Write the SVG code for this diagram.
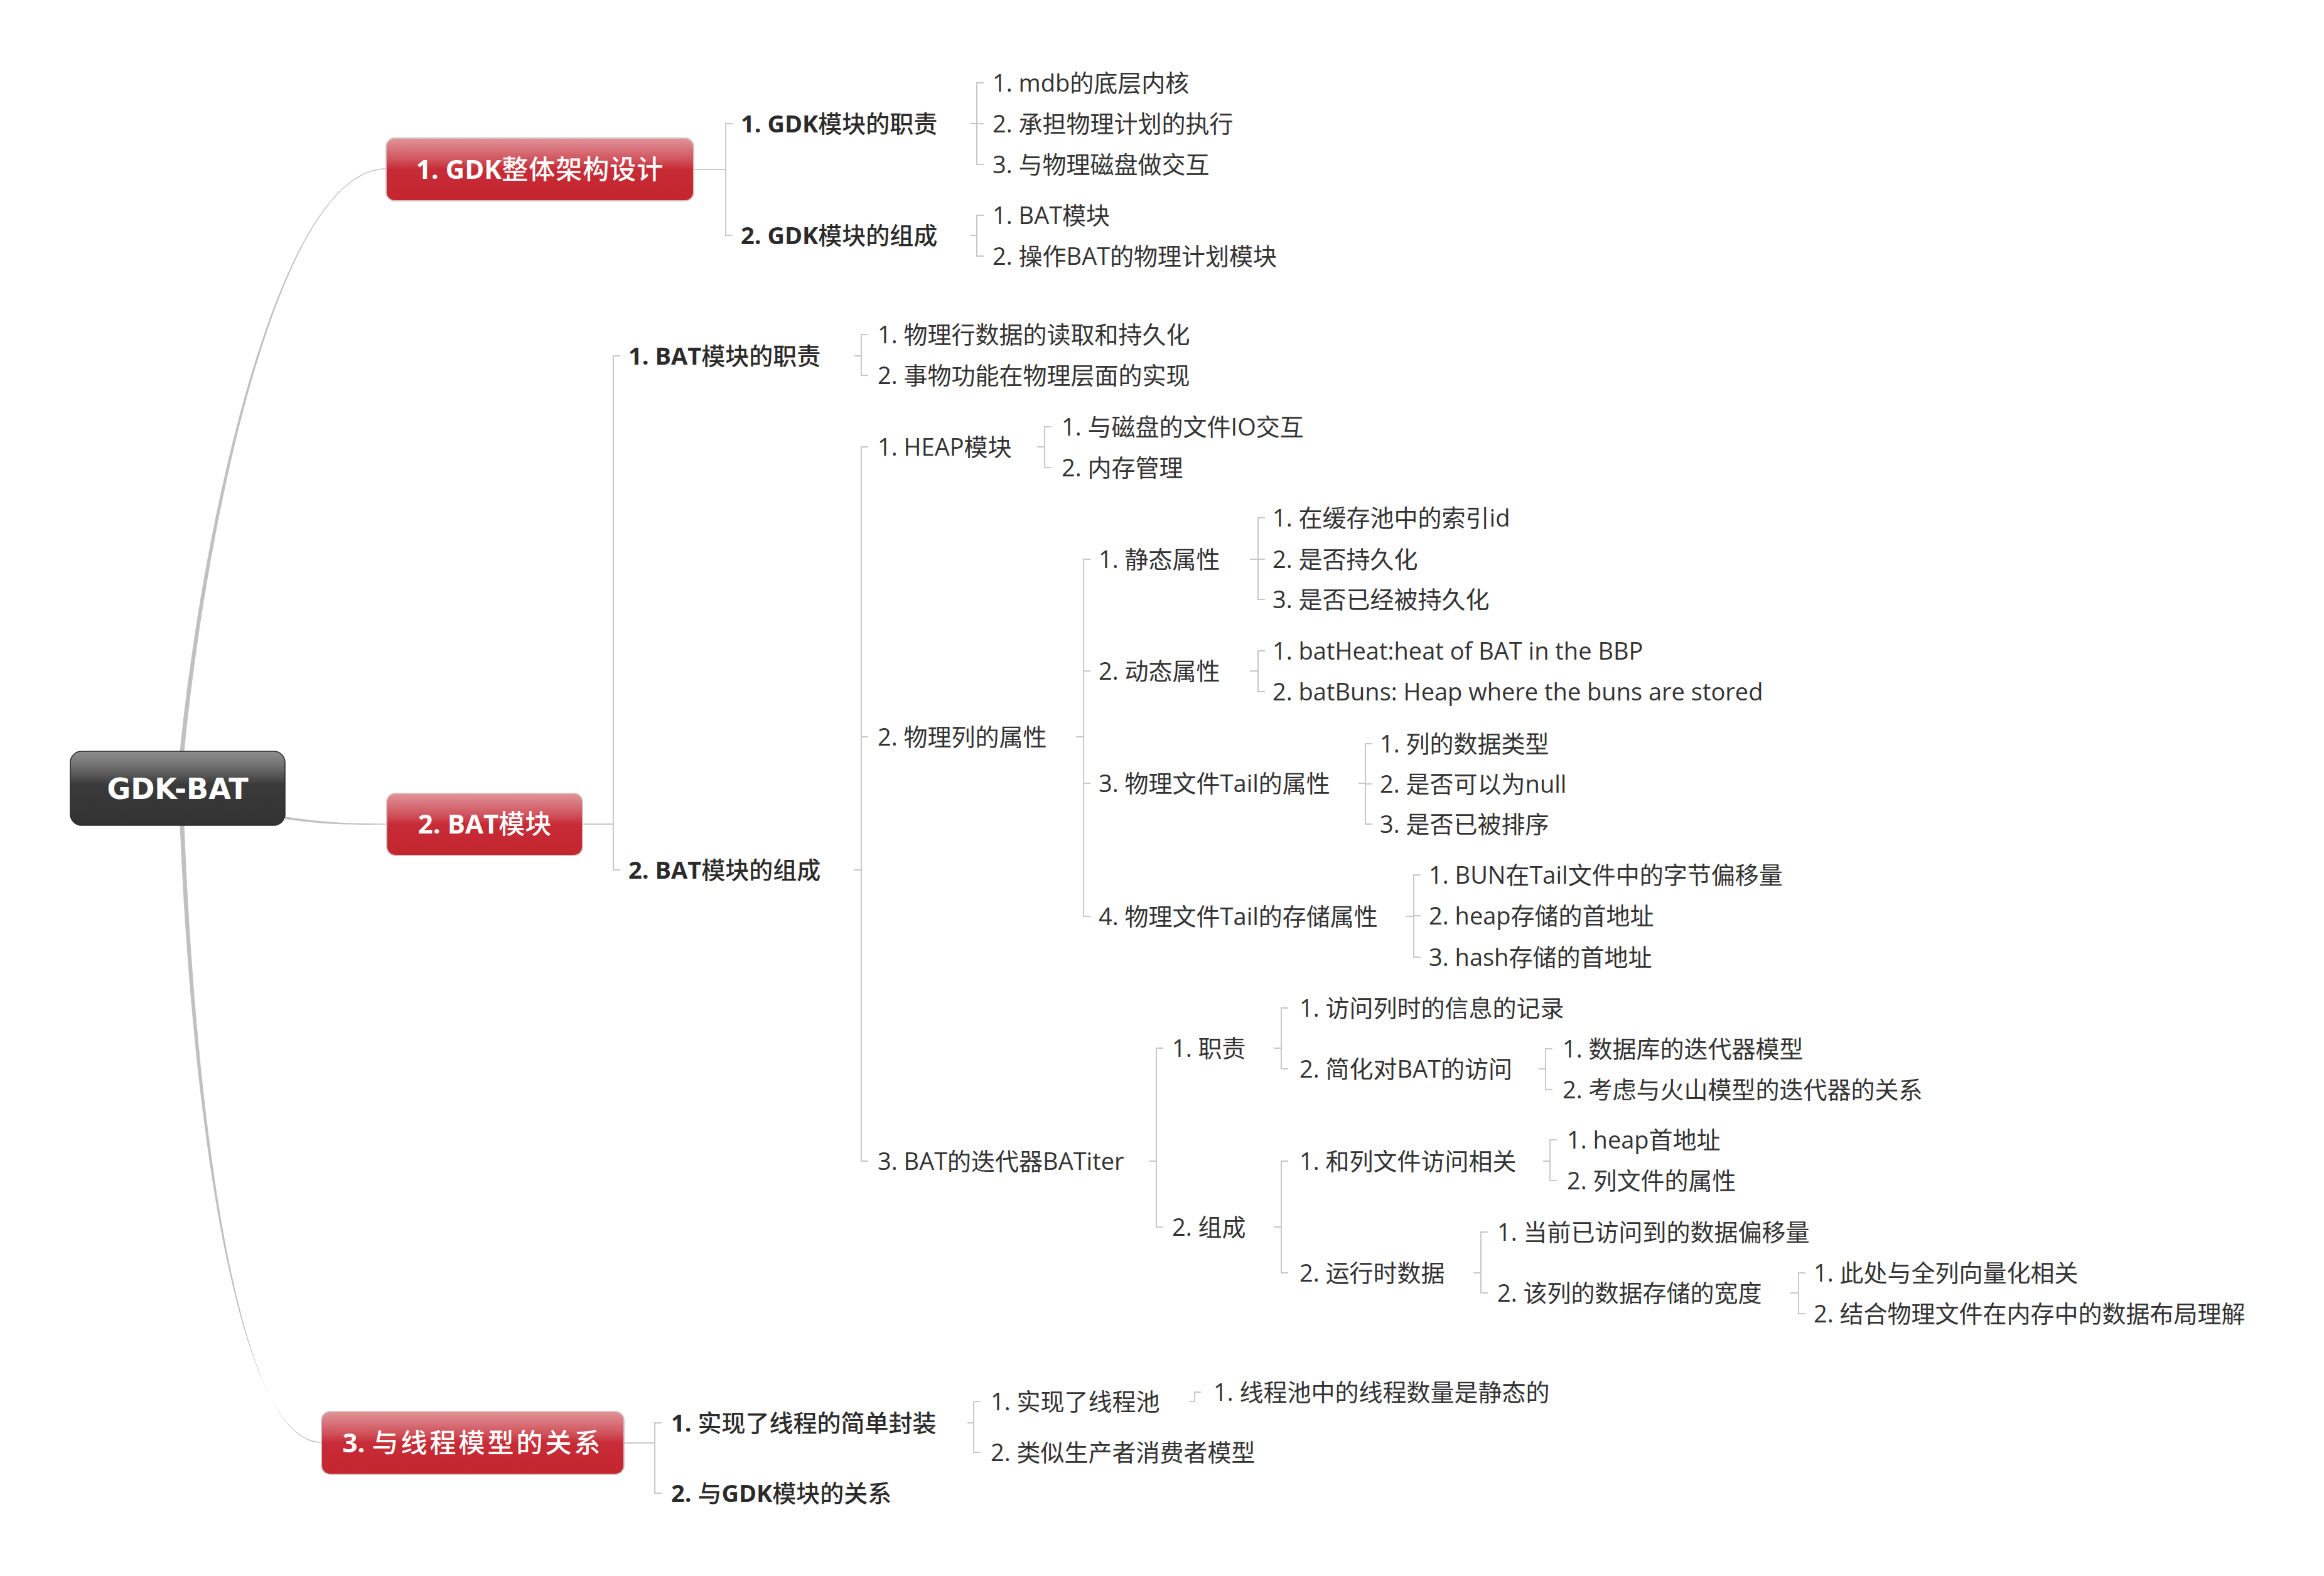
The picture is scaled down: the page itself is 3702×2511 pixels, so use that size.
<svg xmlns="http://www.w3.org/2000/svg" width="3702" height="2511" viewBox="0 0 3702 2511">
<defs>
<linearGradient id="gRed" x1="0" y1="0" x2="0" y2="1">
<stop offset="0" stop-color="#e19496"/>
<stop offset="0.15" stop-color="#d97880"/>
<stop offset="0.35" stop-color="#d0525b"/>
<stop offset="0.5" stop-color="#c72b36"/>
<stop offset="1" stop-color="#c4262f"/>
</linearGradient>
<linearGradient id="gRoot" x1="0" y1="0" x2="0" y2="1">
<stop offset="0" stop-color="#8e8e8e"/>
<stop offset="0.2" stop-color="#707070"/>
<stop offset="0.45" stop-color="#3a3a3a"/>
<stop offset="1" stop-color="#323232"/>
</linearGradient>
<style>
.t{font-family:"Open Sans","Noto Sans CJK SC",sans-serif;font-size:38px;fill:#333}
.b{font-weight:700;fill:#2b2b2b}
.c{font-weight:500}
.nt{font-family:"Open Sans","Noto Sans CJK SC",sans-serif;font-size:42px;font-weight:700;fill:#fff;text-anchor:middle}
.rt{font-family:"DejaVu Sans","Noto Sans CJK SC",sans-serif;font-size:46px;font-weight:700;fill:#fff;text-anchor:middle}
.ln{fill:none;stroke:#c8c8c8;stroke-width:2}
.cv{fill:#c0c0c0}
.box{fill:url(#gRed);stroke:#d4c4c4;stroke-width:2}
</style>
</defs>
<rect width="3702" height="2511" fill="#fff"/>
<g id="connectors">
<path class="cv" d="M286.5,1197 C327,800 450,268.2 615,268.2 L615,269.8 C450,269.8 333,800 293.5,1197 Z"/>
<path class="cv" d="M454,1301 C520,1311.5 560,1312 615,1312.3 L615,1313.8 C560,1314 520,1314.5 454,1305 Z"/>
<path class="cv" d="M286.5,1315 C307,1800 380,2297 512,2297.3 L512,2298.8 C380,2299 313,1800 293.5,1315 Z"/>
<path class="ln" d="M1105,270H1156 M1167,197H1156V375H1167"/>
<path class="ln" d="M1545,197H1556 M1567,132H1556V262H1567 M1556,197H1567"/>
<path class="ln" d="M1545,375H1556 M1567,343H1556V408H1567"/>
<path class="ln" d="M928,1313H977 M988,567H977V1386H988"/>
<path class="ln" d="M1361,567H1372 M1383,533H1372V598H1383"/>
<path class="ln" d="M1360,1386H1372 M1383,712H1372V1850H1383 M1372,1174H1383"/>
<path class="ln" d="M1652,712H1664 M1675,680H1664V745H1675"/>
<path class="ln" d="M1714,1174H1726 M1737,891H1726V1460H1737 M1726,1069H1737 M1726,1248H1737"/>
<path class="ln" d="M1991,891H2004 M2015,825H2004V955H2015 M2004,891H2015"/>
<path class="ln" d="M1991,1069H2004 M2015,1037H2004V1102H2015"/>
<path class="ln" d="M2164,1248H2175 M2186,1185H2175V1313H2186 M2175,1249H2186"/>
<path class="ln" d="M2240,1460H2252 M2263,1394H2252V1525H2263 M2252,1459H2263"/>
<path class="ln" d="M1831,1850H1842 M1853,1670H1842V1955H1853"/>
<path class="ln" d="M2029,1670H2041 M2052,1606H2041V1703H2052"/>
<path class="ln" d="M2451,1703H2462 M2473,1671H2462V1736H2473"/>
<path class="ln" d="M2029,1955H2041 M2052,1850H2041V2028H2052"/>
<path class="ln" d="M2458,1850H2469 M2480,1816H2469V1881H2480"/>
<path class="ln" d="M2347,2028H2359 M2370,1963H2359V2060H2370"/>
<path class="ln" d="M2852,2060H2865 M2876,2028H2865V2093H2876"/>
<path class="ln" d="M994,2299H1043 M1054,2267H1043V2379H1054"/>
<path class="ln" d="M1541,2267H1551 M1562,2233H1551V2314H1562"/>
<path class="ln" d="M1894,2233H1903V2218H1913"/>
</g>
<g id="root">
<rect x="112" y="1197" width="342" height="118" rx="18" fill="url(#gRoot)" stroke="#2a2a2a" stroke-width="1.5"/>
<text class="rt" x="283" y="1273">GDK-BAT</text>
</g>
<g id="n1">
<rect class="box" x="615" y="220" width="490" height="100" rx="14"/>
<text class="nt" x="860" y="285">1. GDK<tspan class="c" letter-spacing="1">整体架构设计</tspan></text>
</g>
<g id="n2">
<rect class="box" x="616" y="1264" width="312" height="99" rx="14"/>
<text class="nt" x="772" y="1328">2. BAT<tspan class="c">模块</tspan></text>
</g>
<g id="n3">
<rect class="box" x="512" y="2249" width="482" height="100" rx="14"/>
<text class="nt" x="753" y="2314">3. <tspan class="c" letter-spacing="4">与线程模型的关系</tspan></text>
</g>
<g id="n1-1"><text class="t b" x="1180" y="211">1. GDK<tspan class="c">模块的职责</tspan></text></g>
<g id="n1-2"><text class="t b" x="1180" y="389">2. GDK<tspan class="c">模块的组成</tspan></text></g>
<g id="n1-1-1"><text class="t" x="1581" y="146">1. mdb的底层内核</text></g>
<g id="n1-1-2"><text class="t" x="1581" y="211">2. 承担物理计划的执行</text></g>
<g id="n1-1-3"><text class="t" x="1581" y="276">3. 与物理磁盘做交互</text></g>
<g id="n1-2-1"><text class="t" x="1581" y="357">1. BAT模块</text></g>
<g id="n1-2-2"><text class="t" x="1581" y="422">2. 操作BAT的物理计划模块</text></g>
<g id="n2-1"><text class="t b" x="1001" y="581">1. BAT<tspan class="c">模块的职责</tspan></text></g>
<g id="n2-2"><text class="t b" x="1001" y="1400">2. BAT<tspan class="c">模块的组成</tspan></text></g>
<g id="n2-1-1"><text class="t" x="1398" y="547">1. 物理行数据的读取和持久化</text></g>
<g id="n2-1-2"><text class="t" x="1398" y="612">2. 事物功能在物理层面的实现</text></g>
<g id="n2-2-1"><text class="t" x="1398" y="726">1. HEAP模块</text></g>
<g id="n2-2-2"><text class="t" x="1398" y="1188">2. 物理列的属性</text></g>
<g id="n2-2-3"><text class="t" x="1398" y="1864">3. BAT的迭代器BATiter</text></g>
<g id="n2-2-1-1"><text class="t" x="1691" y="694">1. 与磁盘的文件IO交互</text></g>
<g id="n2-2-1-2"><text class="t" x="1691" y="759">2. 内存管理</text></g>
<g id="n2-2-2-1"><text class="t" x="1750" y="905">1. 静态属性</text></g>
<g id="n2-2-2-2"><text class="t" x="1750" y="1083">2. 动态属性</text></g>
<g id="n2-2-2-3"><text class="t" x="1750" y="1262">3. 物理文件Tail的属性</text></g>
<g id="n2-2-2-4"><text class="t" x="1750" y="1474">4. 物理文件Tail的存储属性</text></g>
<g id="n2-2-2-1-1"><text class="t" x="2027" y="839">1. 在缓存池中的索引id</text></g>
<g id="n2-2-2-1-2"><text class="t" x="2027" y="905">2. 是否持久化</text></g>
<g id="n2-2-2-1-3"><text class="t" x="2027" y="969">3. 是否已经被持久化</text></g>
<g id="n2-2-2-2-1"><text class="t" x="2027" y="1051">1. batHeat:heat of BAT in the BBP</text></g>
<g id="n2-2-2-2-2"><text class="t" x="2027" y="1116">2. batBuns: Heap where the buns are stored</text></g>
<g id="n2-2-2-3-1"><text class="t" x="2198" y="1199">1. 列的数据类型</text></g>
<g id="n2-2-2-3-2"><text class="t" x="2198" y="1263">2. 是否可以为null</text></g>
<g id="n2-2-2-3-3"><text class="t" x="2198" y="1327">3. 是否已被排序</text></g>
<g id="n2-2-2-4-1"><text class="t" x="2276" y="1408">1. BUN在Tail文件中的字节偏移量</text></g>
<g id="n2-2-2-4-2"><text class="t" x="2276" y="1473">2. heap存储的首地址</text></g>
<g id="n2-2-2-4-3"><text class="t" x="2276" y="1539">3. hash存储的首地址</text></g>
<g id="n2-2-3-1"><text class="t" x="1867" y="1684">1. 职责</text></g>
<g id="n2-2-3-2"><text class="t" x="1867" y="1969">2. 组成</text></g>
<g id="n2-2-3-1-1"><text class="t" x="2070" y="1620">1. 访问列时的信息的记录</text></g>
<g id="n2-2-3-1-2"><text class="t" x="2070" y="1717">2. 简化对BAT的访问</text></g>
<g id="n2-2-3-1-2-1"><text class="t" x="2489" y="1685">1. 数据库的迭代器模型</text></g>
<g id="n2-2-3-1-2-2"><text class="t" x="2489" y="1750">2. 考虑与火山模型的迭代器的关系</text></g>
<g id="n2-2-3-2-1"><text class="t" x="2070" y="1864">1. 和列文件访问相关</text></g>
<g id="n2-2-3-2-2"><text class="t" x="2070" y="2042">2. 运行时数据</text></g>
<g id="n2-2-3-2-1-1"><text class="t" x="2496" y="1830">1. heap首地址</text></g>
<g id="n2-2-3-2-1-2"><text class="t" x="2496" y="1895">2. 列文件的属性</text></g>
<g id="n2-2-3-2-2-1"><text class="t" x="2385" y="1977">1. 当前已访问到的数据偏移量</text></g>
<g id="n2-2-3-2-2-2"><text class="t" x="2385" y="2074">2. 该列的数据存储的宽度</text></g>
<g id="n2-2-3-2-2-2-1"><text class="t" x="2889" y="2042">1. 此处与全列向量化相关</text></g>
<g id="n2-2-3-2-2-2-2"><text class="t" x="2889" y="2107">2. 结合物理文件在内存中的数据布局理解</text></g>
<g id="n3-1"><text class="t b" x="1069" y="2281">1. <tspan class="c">实现了线程的简单封装</tspan></text></g>
<g id="n3-2"><text class="t b" x="1069" y="2393">2. <tspan class="c">与</tspan>GDK<tspan class="c">模块的关系</tspan></text></g>
<g id="n3-1-1"><text class="t" x="1578" y="2247">1. 实现了线程池</text></g>
<g id="n3-1-2"><text class="t" x="1578" y="2328">2. 类似生产者消费者模型</text></g>
<g id="n3-1-1-1"><text class="t" x="1933" y="2232">1. 线程池中的线程数量是静态的</text></g>
</svg>
